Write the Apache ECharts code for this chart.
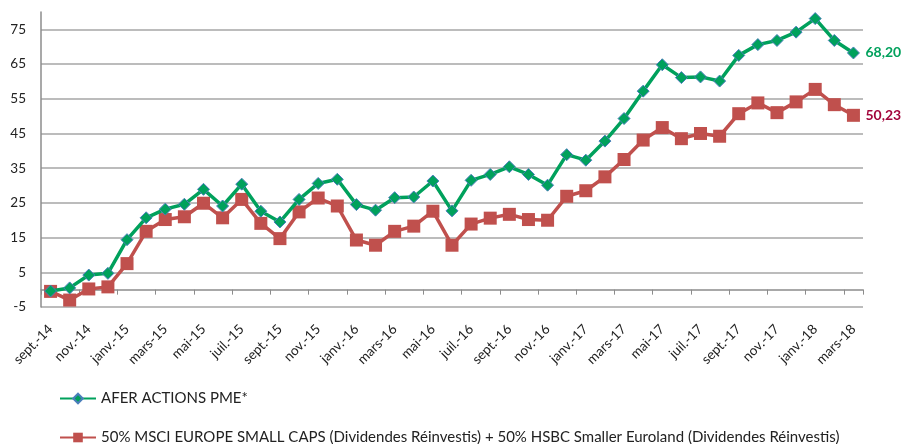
<!DOCTYPE html>
<html>
<head>
<meta charset="utf-8">
<script src="https://cdn.jsdelivr.net/npm/echarts@6/dist/echarts.min.js"></script>
<style>
  html, body { margin: 0; padding: 0; background: #fff; }
  #chart { width: 907px; height: 444px; }
</style>
</head>
<body>
<div id="chart"></div>
<script>
// ------------------------------------------------------------------------
// Data
// ------------------------------------------------------------------------
var months = [
    'sept.-14', 'oct.-14', 'nov.-14', 'déc.-14',
    'janv.-15', 'févr.-15', 'mars-15', 'avr.-15', 'mai-15', 'juin-15',
    'juil.-15', 'août-15', 'sept.-15', 'oct.-15', 'nov.-15', 'déc.-15',
    'janv.-16', 'févr.-16', 'mars-16', 'avr.-16', 'mai-16', 'juin-16',
    'juil.-16', 'août-16', 'sept.-16', 'oct.-16', 'nov.-16', 'déc.-16',
    'janv.-17', 'févr.-17', 'mars-17', 'avr.-17', 'mai-17', 'juin-17',
    'juil.-17', 'août-17', 'sept.-17', 'oct.-17', 'nov.-17', 'déc.-17',
    'janv.-18', 'févr.-18', 'mars-18'
];

var aferName = 'AFER ACTIONS PME*';
var aferValues = [
    -0.4, 0.5, 4.2, 4.7, 14.4, 20.7, 23.2, 24.6, 28.9, 24.1,
    30.4, 22.6, 19.5, 26.0, 30.6, 31.8, 24.5, 22.9, 26.5, 26.7,
    31.3, 22.7, 31.5, 33.2, 35.4, 33.2, 30.1, 38.9, 37.3, 42.8,
    49.3, 57.2, 64.8, 61.1, 61.3, 60.1, 67.5, 70.6, 71.8, 74.2,
    78.1, 71.8, 68.20
];

var indexName = '50% MSCI EUROPE SMALL CAPS (Dividendes Réinvestis) + 50% HSBC Smaller Euroland (Dividendes Réinvestis)';
var indexValues = [
    -0.5, -3.0, 0.2, 0.8, 7.5, 16.8, 20.2, 21.0, 24.9, 20.7,
    26.0, 19.1, 14.7, 22.4, 26.4, 24.1, 14.3, 12.8, 16.8, 18.3,
    22.6, 12.8, 18.9, 20.6, 21.7, 20.2, 20.0, 26.9, 28.5, 32.5,
    37.5, 43.1, 46.7, 43.5, 45.0, 44.2, 50.7, 53.8, 51.0, 54.1,
    57.7, 53.3, 50.23
];

var yMin = -5, yMax = 80, yStep = 10;

// ------------------------------------------------------------------------
// Chart
// ------------------------------------------------------------------------
var FONT = 'Lato, "Liberation Sans", sans-serif';
var chart = echarts.init(document.getElementById('chart'), null, { renderer: 'canvas' });

function frNumber(v) {
    return v.toFixed(2).replace('.', ',');
}

// one legend per row, stacked like the original
function legendRow(name, top) {
    return {
        data: [name],
        left: 54,
        top: top,
        itemWidth: 36,
        itemHeight: 12,
        itemGap: 0,
        textStyle: { fontFamily: FONT, fontSize: 15, color: '#222' }
    };
}

var option = {
    animation: false,
    textStyle: { fontFamily: FONT },
    grid: { left: 41, right: 44, top: 12, bottom: 137, containLabel: false },
    legend: [
        legendRow(aferName, 386),
        legendRow(indexName, 425)
    ],
    xAxis: {
        type: 'category',
        data: months,
        boundaryGap: true,
        axisLine: { onZero: true, lineStyle: { color: '#8c8c8c', width: 1.5 } },
        axisTick: { show: true, interval: 1, length: 5, lineStyle: { color: '#8c8c8c' } },
        axisLabel: {
            interval: 1,
            rotate: 45,
            margin: 20,
            fontFamily: FONT,
            fontSize: 13.5,
            color: '#222'
        },
        splitLine: { show: false }
    },
    yAxis: {
        type: 'value',
        min: yMin,
        max: yMax,
        interval: yStep,
        axisLine: { show: true, lineStyle: { color: '#8c8c8c', width: 1.5 } },
        axisTick: { show: false },
        axisLabel: {
            showMaxLabel: false,
            margin: 15,
            fontFamily: FONT,
            fontSize: 13.5,
            color: '#222'
        },
        splitLine: {
            show: true,
            showMaxLine: false,
            lineStyle: { color: '#a6a6a6', width: 1.5 }
        }
    },
    series: [
        {
            name: indexName,
            type: 'line',
            data: indexValues,
            symbol: 'rect',
            symbolSize: 13,
            showAllSymbol: true,
            z: 2,
            itemStyle: { color: '#c0504d' },
            lineStyle: { width: 3.5, color: '#c0504d' },
            endLabel: {
                show: true,
                distance: 12,
                formatter: function (p) { return frNumber(p.value); },
                fontFamily: FONT,
                fontSize: 14,
                fontWeight: 'bold',
                color: '#a3063c'
            }
        },
        {
            name: aferName,
            type: 'line',
            data: aferValues,
            symbol: 'diamond',
            symbolSize: 12,
            showAllSymbol: true,
            z: 3,
            itemStyle: { color: '#00a15c', borderColor: '#4a7ebb', borderWidth: 1 },
            lineStyle: { width: 3.5, color: '#00a15c' },
            endLabel: {
                show: true,
                distance: 12,
                formatter: function (p) { return frNumber(p.value); },
                fontFamily: FONT,
                fontSize: 14,
                fontWeight: 'bold',
                color: '#00a15c'
            }
        }
    ]
};

chart.setOption(option);
</script>
</body>
</html>
